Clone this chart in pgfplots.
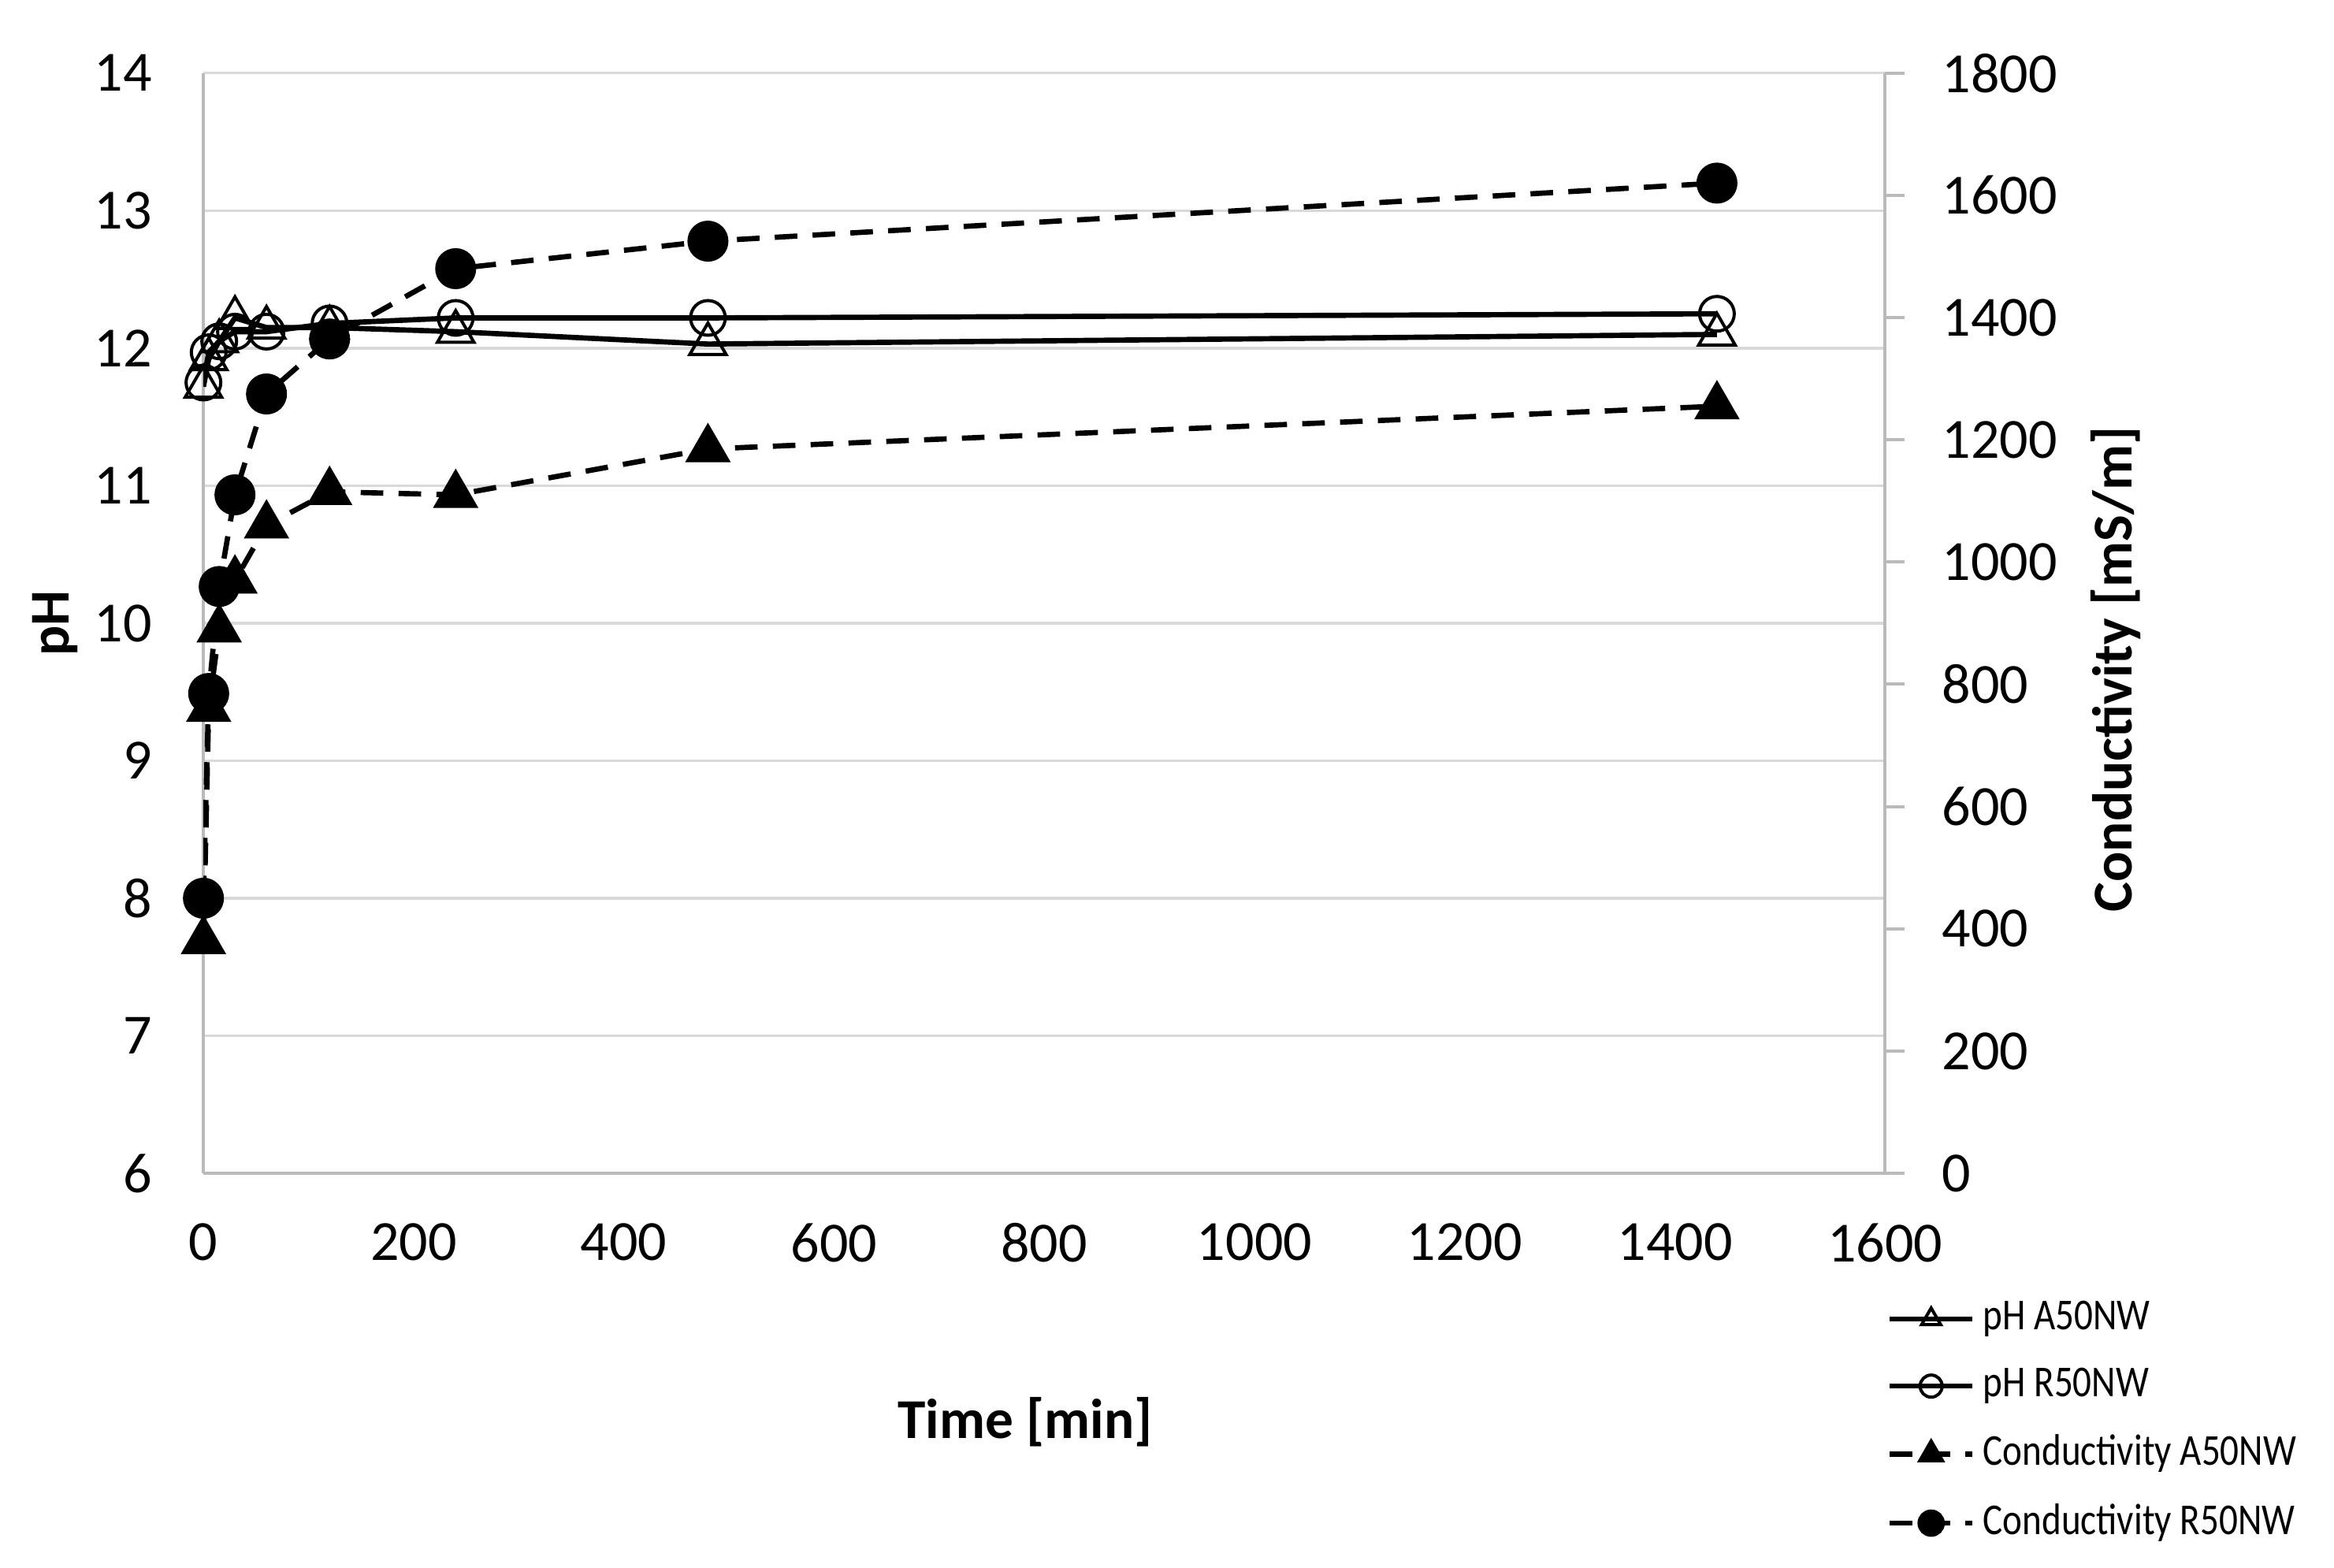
\documentclass[border=0pt]{standalone}
\usepackage{fontspec}
\setmainfont{Carlito}
\newfontfamily\legfont[FakeStretch=0.84]{Carlito}
\usepackage{pgfplots}
\pgfplotsset{compat=1.18}

\begin{document}
\begin{tikzpicture}
\useasboundingbox (-38.7pt,-75pt) rectangle (405.3pt,223.2pt);
\pgfplotsset{
  every axis/.append style={
    width=319.9pt, height=209.3pt, scale only axis,
    xmin=0, xmax=1600,
    /pgf/number format/assume math mode=true,
    /pgf/number format/1000 sep={},
    tick label style={font=\fontsize{10.8}{12}\selectfont},
    label style={font=\bfseries\fontsize{10.7}{12}\selectfont},
    axis line style={-, color=black!27, line width=0.6pt},
  },
  phA/.style={black, line width=1pt, mark=triangle, mark size=4pt,
    mark options={solid, line width=0.6pt}},
  phR/.style={black, line width=1pt, mark=o, mark size=3.3pt,
    mark options={solid, line width=0.6pt}},
  conA/.style={black, line width=1pt, dash pattern=on 4.3pt off 2.9pt,
    mark=triangle*, mark size=4pt, mark options={solid}},
  conR/.style={black, line width=1pt, dash pattern=on 4.3pt off 2.9pt,
    mark=*, mark size=3.4pt, mark options={solid}},
}
% primary axis: pH
\begin{axis}[
  ymin=6, ymax=14, ytick={6,...,14},
  xtick={0,200,...,1600},
  axis x line*=bottom, axis y line*=left,
  ymajorgrids, grid style={color=black!15, line width=0.5pt},
  tick align=inside, tick style={draw=none},
  xticklabel style={yshift=-6pt},
  yticklabel style={xshift=-6.3pt},
  xlabel={Time [min]}, ylabel={pH},
  xlabel style={at={(axis description cs:0.4886,-0.2261)}, anchor=center},
  ylabel style={at={(axis description cs:-0.0881,0.5)}, anchor=center},
]
\addplot[phA] coordinates {
(0,11.72) (5,11.92) (15,12.05) (30,12.22) (60,12.15) (120,12.15)
(240,12.12) (480,12.03) (1440,12.1)
};
\addplot[phR] coordinates {
(0,11.75) (5,11.97) (15,12.05) (30,12.12) (60,12.12) (120,12.18)
(240,12.22) (480,12.22) (1440,12.25)
};
\end{axis}
% secondary axis: conductivity
\begin{axis}[
  ymin=0, ymax=1800, ytick={0,200,...,1800},
  axis y line*=right, axis x line=none,
  tick align=outside, major tick length=3.75pt,
  y tick style={color=black!27, line width=0.6pt},
  yticklabel style={xshift=3.55pt},
  ylabel={Conductivity [mS/m]},
  ylabel style={at={(axis description cs:1.137,0.458)}, anchor=center},
  legend style={at={(axis description cs:1.0005,-0.1078)}, anchor=north west,
    draw=none, fill=none, inner sep=0pt, row sep=2.8pt,
    font=\legfont\fontsize{8.4}{9}\selectfont, nodes={inner sep=1.5pt}},
  legend cell align=left,
  legend image code/.code={
    \draw[mark repeat=2, mark phase=2, #1, mark size=2.1pt]
      plot coordinates {(0pt,0pt) (7.9pt,0pt) (15.8pt,0pt)};},
]
\addlegendimage{phA}
\addlegendimage{phR}
\addplot[conA] coordinates {
(0,380) (5,760) (15,890) (30,970) (60,1060) (120,1115)
(240,1110) (480,1185) (1440,1255)
};
\addplot[conR] coordinates {
(0,450) (5,785) (15,960) (30,1110) (60,1275) (120,1365)
(240,1480) (480,1525) (1440,1620)
};
\legend{pH A50NW, pH R50NW, Conductivity A50NW, Conductivity R50NW}
\end{axis}
\end{tikzpicture}
\end{document}
